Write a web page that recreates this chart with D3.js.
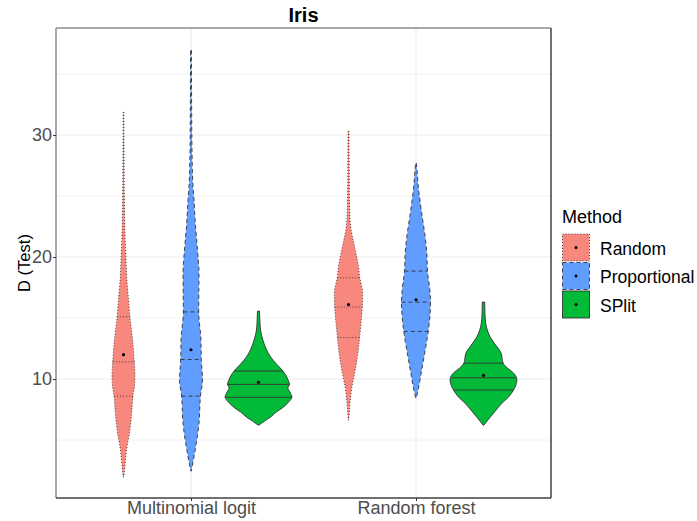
<!DOCTYPE html>
<html>
<head>
<meta charset="utf-8">
<script src="https://cdn.jsdelivr.net/npm/d3@7"></script>
<style>
  body { margin: 0; background: #fff; }
  svg { display: block; font-family: "Liberation Sans", Arial, sans-serif; }
</style>
</head>
<body>
<svg id="chart" width="697" height="521"></svg>
<script>
// Categories and groups
const categories = ["Multinomial logit", "Random forest"];
const methods = ["Random", "Proportional", "SPlit"];
const methodColors = ["#F8877E", "#619CFF", "#00BA38"];
const yTicks = [10, 20, 30];
const yMinorTicks = [5, 15, 25, 35];

// Density profiles: [D value, relative density]
const mlRandom = [[31.89,0.01],[28.77,0.015],[24.67,0.025],[21.72,0.045],[19.75,0.075],[18.11,0.10],[16.48,0.15],[15.08,0.19],[13.20,0.27],[11.39,0.32],[10.33,0.34],[9.51,0.33],[8.61,0.28],[7.46,0.25],[5.82,0.19],[4.18,0.09],[2.95,0.045],[1.97,0.01]];
const mlProportional = [[36.97,0.012],[32.87,0.018],[28.77,0.03],[26.07,0.053],[24.67,0.089],[22.79,0.127],[20.08,0.207],[18.69,0.237],[16.89,0.231],[15.49,0.228],[13.20,0.296],[11.64,0.305],[9.92,0.341],[8.61,0.281],[6.39,0.237],[4.18,0.124],[3.20,0.059],[2.46,0.009]];
const mlSplit = [[15.57,0.03],[14.84,0.04],[14.02,0.06],[13.20,0.13],[12.38,0.24],[11.80,0.36],[11.23,0.53],[10.74,0.70],[10.16,0.84],[9.75,0.90],[9.59,0.92],[9.26,0.87],[8.93,0.93],[8.52,0.99],[8.11,0.89],[7.70,0.74],[7.30,0.53],[6.89,0.36],[6.56,0.18],[6.23,0.015]];
const rfRandom = [[30.33,0.012],[27.95,0.018],[25.74,0.024],[23.85,0.036],[22.46,0.065],[21.64,0.12],[20.33,0.22],[19.18,0.30],[18.36,0.33],[17.05,0.42],[15.90,0.41],[14.84,0.38],[13.44,0.33],[12.13,0.28],[10.74,0.20],[9.34,0.10],[8.03,0.044],[6.64,0.009]];
const rfProportional = [[27.70,0.012],[27.13,0.03],[25.74,0.068],[24.43,0.127],[23.03,0.199],[21.64,0.273],[20.33,0.32],[18.85,0.34],[17.30,0.41],[16.31,0.43],[15.25,0.415],[13.93,0.364],[12.13,0.258],[10.74,0.169],[9.34,0.08],[8.44,0.009]];
const rfSplit = [[16.31,0.036],[15.25,0.044],[14.43,0.074],[13.44,0.20],[12.79,0.36],[12.13,0.52],[11.31,0.58],[10.90,0.71],[10.49,0.89],[9.92,0.99],[9.51,0.96],[9.10,0.89],[8.52,0.74],[8.03,0.55],[7.21,0.30],[6.64,0.13],[6.23,0.015]];

// Quartiles (25%, 50%, 75%) and means
const mlRandomQ = [8.6, 11.4, 15.1];
const mlProportionalQ = [8.6, 11.6, 15.5];
const mlSplitQ = [8.5, 9.56, 10.66];
const rfRandomQ = [13.4, 15.9, 18.3];
const rfProportionalQ = [13.9, 16.3, 18.85];
const rfSplitQ = [9.1, 10.1, 11.3];
const mlMeans = [12.0, 12.4, 9.73];
const rfMeans = [16.1, 16.5, 10.3];

const violins = [
  { cat: categories[0], m: 0, dens: mlRandom, q: mlRandomQ, mean: mlMeans[0] },
  { cat: categories[0], m: 1, dens: mlProportional, q: mlProportionalQ, mean: mlMeans[1] },
  { cat: categories[0], m: 2, dens: mlSplit, q: mlSplitQ, mean: mlMeans[2] },
  { cat: categories[1], m: 0, dens: rfRandom, q: rfRandomQ, mean: rfMeans[0] },
  { cat: categories[1], m: 1, dens: rfProportional, q: rfProportionalQ, mean: rfMeans[1] },
  { cat: categories[1], m: 2, dens: rfSplit, q: rfSplitQ, mean: rfMeans[2] }
];

const dashes = ["1,2", "4,3", null];
const outline = "#333333";

const panel = { left: 56, top: 28, right: 551, bottom: 498 };
const svg = d3.select("#chart");

const y = d3.scaleLinear().domain([0.25, 38.77]).range([panel.bottom, panel.top]);
const x = d3.scalePoint().domain(categories).range([panel.left, panel.right]).padding(0.6);
const catStep = x.step();
const dodge = d3.scaleBand().domain(d3.range(methods.length)).range([-0.45 * catStep, 0.45 * catStep]);
const halfW = d3.scaleLinear().domain([0, 1]).range([0, dodge.bandwidth() / 2]);

// grid
const g = svg.append("g");
g.selectAll("line.minor").data(yMinorTicks).join("line")
  .attr("x1", panel.left).attr("x2", panel.right)
  .attr("y1", d => y(d)).attr("y2", d => y(d))
  .attr("stroke", "#ebebeb").attr("stroke-width", 0.6);
g.selectAll("line.major").data(yTicks).join("line")
  .attr("x1", panel.left).attr("x2", panel.right)
  .attr("y1", d => y(d)).attr("y2", d => y(d))
  .attr("stroke", "#ebebeb").attr("stroke-width", 1.1);
g.selectAll("line.vx").data(categories).join("line")
  .attr("x1", d => x(d)).attr("x2", d => x(d))
  .attr("y1", panel.top).attr("y2", panel.bottom)
  .attr("stroke", "#ebebeb").attr("stroke-width", 1.1);

// violins
function widthAt(dens, v) {
  for (let i = 0; i < dens.length - 1; i++) {
    const a = dens[i], b = dens[i + 1];
    if ((v <= a[0] && v >= b[0])) {
      const t = (a[0] - v) / (a[0] - b[0]);
      return a[1] + t * (b[1] - a[1]);
    }
  }
  return 0;
}

violins.forEach(vl => {
  const cx = x(vl.cat) + dodge(vl.m) + dodge.bandwidth() / 2;
  const area = d3.area()
    .y(d => y(d[0]))
    .x0(d => cx - halfW(d[1]))
    .x1(d => cx + halfW(d[1]))
    .curve(d3.curveMonotoneY);
  const vg = svg.append("g");
  vg.append("path")
    .attr("d", area(vl.dens))
    .attr("fill", methodColors[vl.m])
    .attr("stroke", outline)
    .attr("stroke-width", 0.9)
    .attr("stroke-dasharray", dashes[vl.m]);
  vg.selectAll("line").data(vl.q).join("line")
    .attr("x1", d => cx - halfW(widthAt(vl.dens, d)))
    .attr("x2", d => cx + halfW(widthAt(vl.dens, d)))
    .attr("y1", d => y(d)).attr("y2", d => y(d))
    .attr("stroke", outline)
    .attr("stroke-width", 0.9)
    .attr("stroke-dasharray", dashes[vl.m]);
  vg.append("circle")
    .attr("cx", cx).attr("cy", y(vl.mean)).attr("r", 1.6)
    .attr("fill", "#000");
});

// panel border
svg.append("line").attr("x1", panel.left).attr("x2", panel.right).attr("y1", panel.top).attr("y2", panel.top)
  .attr("stroke", "#8c8c8c").attr("stroke-width", 1.5);
svg.append("line").attr("x1", panel.left).attr("x2", panel.left).attr("y1", panel.top).attr("y2", panel.bottom)
  .attr("stroke", "#8c8c8c").attr("stroke-width", 1.5);
svg.append("line").attr("x1", panel.left).attr("x2", panel.right).attr("y1", panel.bottom).attr("y2", panel.bottom)
  .attr("stroke", "#404040").attr("stroke-width", 1.5);
svg.append("line").attr("x1", panel.right).attr("x2", panel.right).attr("y1", panel.top).attr("y2", panel.bottom)
  .attr("stroke", "#404040").attr("stroke-width", 1.5);

// axes
const yAxis = svg.append("g").attr("transform", `translate(${panel.left},0)`)
  .call(d3.axisLeft(y).tickValues(yTicks).tickSize(3).tickPadding(1));
yAxis.select(".domain").remove();
yAxis.selectAll("line").attr("stroke", "#333").attr("stroke-width", 1);
yAxis.selectAll("text").attr("fill", "#4d4d4d").style("font-size", "18px");

const xAxis = svg.append("g").attr("transform", `translate(0,${panel.bottom})`)
  .call(d3.axisBottom(x).tickSize(3).tickPadding(0));
xAxis.select(".domain").remove();
xAxis.selectAll("line").attr("stroke", "#333").attr("stroke-width", 1);
xAxis.selectAll("text").attr("fill", "#4d4d4d").style("font-size", "18px");

// titles
svg.append("text").attr("x", (panel.left + panel.right) / 2).attr("y", 22)
  .attr("text-anchor", "middle").style("font-size", "20px").style("font-weight", "bold")
  .text("Iris");
svg.append("text")
  .attr("transform", `translate(30,${(panel.top + panel.bottom) / 2}) rotate(-90)`)
  .attr("text-anchor", "middle").style("font-size", "16.5px")
  .text("D (Test)");

// legend
const lg = svg.append("g").attr("transform", "translate(562,0)");
lg.append("text").attr("x", 0).attr("y", 223).style("font-size", "18px").text("Method");
methods.forEach((m, i) => {
  const top = 234 + i * 28.5;
  lg.append("rect").attr("x", 0.5).attr("y", top).attr("width", 27).attr("height", 27)
    .attr("fill", methodColors[i]).attr("stroke", outline).attr("stroke-width", 0.9)
    .attr("stroke-dasharray", dashes[i]);
  lg.append("circle").attr("cx", 14).attr("cy", top + 13.5).attr("r", 1.5).attr("fill", "#000");
  lg.append("text").attr("x", 38).attr("y", top + 20.5).style("font-size", "17.5px").text(m);
});
</script>
</body>
</html>
